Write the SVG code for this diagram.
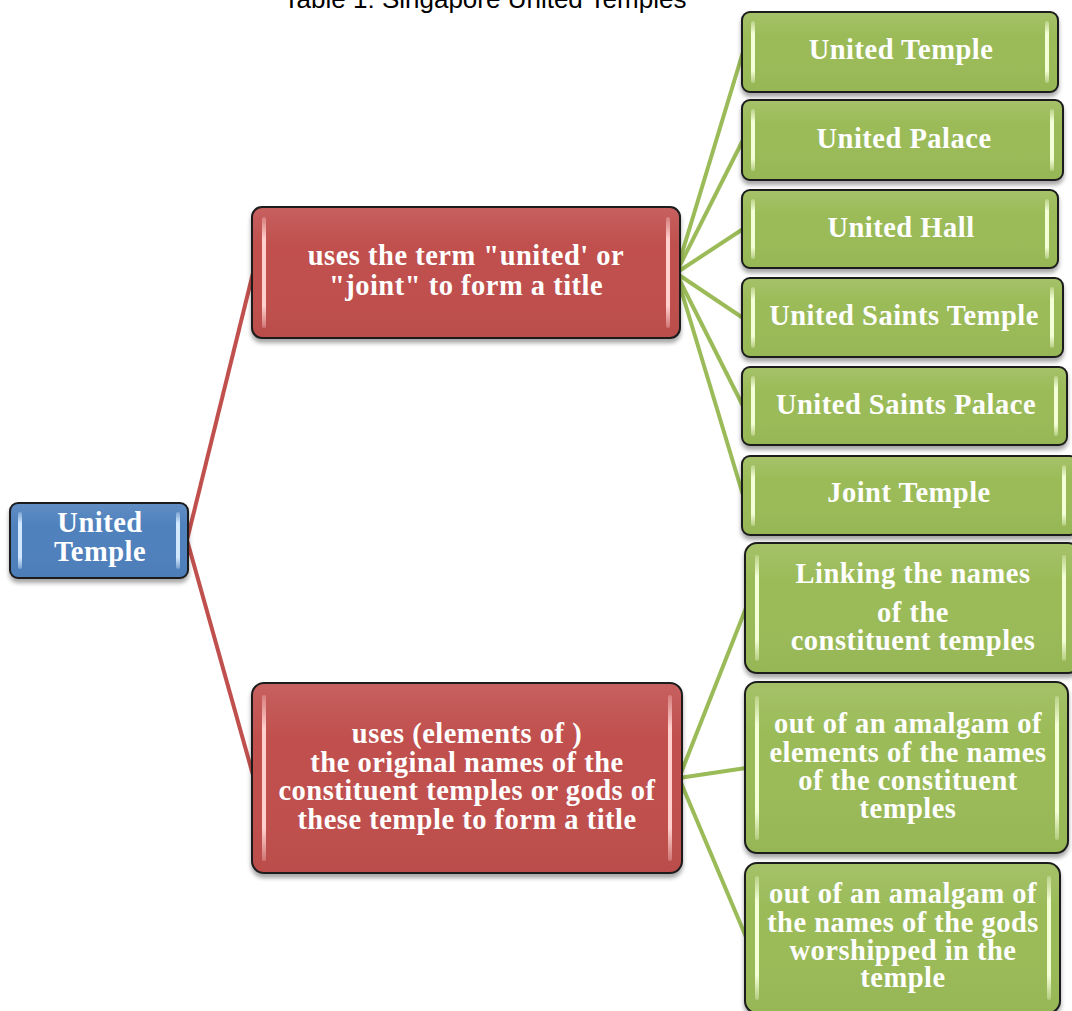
<svg xmlns="http://www.w3.org/2000/svg" width="1072" height="1011" viewBox="0 0 1072 1011">
<style>
.t{font-family:"Liberation Serif","Times New Roman",serif;font-weight:bold;font-size:28.5px;letter-spacing:0.5px;fill:#ffffff;text-anchor:middle}
.title{font-family:"Liberation Sans",Arial,sans-serif;font-size:26px;fill:#000;text-anchor:middle}
.box{stroke:#1c1c1c;stroke-width:2;filter:url(#sh)}
.g{fill:#9bbb59}.r{fill:#c0504d}.b{fill:#4f81bd}
.gl{fill:url(#glG)}.rl{fill:url(#glR)}.bl{fill:url(#glB)}
.gloss{fill:url(#top);stroke:none}
.cr{stroke:#c0504d;stroke-width:4;fill:none}
.cg{stroke:#9bbb59;stroke-width:4;fill:none}
</style>
<defs>
<filter id="sh" x="-10%" y="-10%" width="120%" height="130%">
<feDropShadow dx="0" dy="4" stdDeviation="2" flood-color="#000" flood-opacity="0.35"/>
</filter>
<linearGradient id="top" x1="0" y1="0" x2="0" y2="1">
<stop offset="0" stop-color="#fff" stop-opacity="0.1"/>
<stop offset="0.3" stop-color="#fff" stop-opacity="0"/>
<stop offset="1" stop-color="#000" stop-opacity="0.03"/>
</linearGradient>
<linearGradient id="glG" x1="0" y1="0" x2="0" y2="1">
<stop offset="0" stop-color="#f4ffd8" stop-opacity="0.3"/>
<stop offset="0.2" stop-color="#f4ffd8"/>
<stop offset="0.8" stop-color="#f4ffd8"/>
<stop offset="1" stop-color="#f4ffd8" stop-opacity="0.3"/>
</linearGradient>
<linearGradient id="glR" x1="0" y1="0" x2="0" y2="1">
<stop offset="0" stop-color="#ffd0ce" stop-opacity="0.3"/>
<stop offset="0.2" stop-color="#ffd0ce"/>
<stop offset="0.8" stop-color="#ffd0ce"/>
<stop offset="1" stop-color="#ffd0ce" stop-opacity="0.3"/>
</linearGradient>
<linearGradient id="glB" x1="0" y1="0" x2="0" y2="1">
<stop offset="0" stop-color="#d2e8ff" stop-opacity="0.3"/>
<stop offset="0.2" stop-color="#d2e8ff"/>
<stop offset="0.8" stop-color="#d2e8ff"/>
<stop offset="1" stop-color="#d2e8ff" stop-opacity="0.3"/>
</linearGradient>
</defs>
<rect width="1072" height="1011" fill="#ffffff"/>
<text class="title" x="485" y="8">Table 1: Singapore United Temples</text>

<g id="connectors">
<line class="cr" x1="187" y1="540" x2="253" y2="273"/>
<line class="cr" x1="187" y1="540" x2="253" y2="775"/>
<line class="cg" x1="676" y1="273" x2="743" y2="52"/>
<line class="cg" x1="676" y1="273" x2="743" y2="140"/>
<line class="cg" x1="676" y1="273" x2="743" y2="229"/>
<line class="cg" x1="676" y1="273" x2="743" y2="318"/>
<line class="cg" x1="676" y1="273" x2="743" y2="406"/>
<line class="cg" x1="676" y1="273" x2="743" y2="495"/>
<line class="cg" x1="679" y1="778" x2="746" y2="608"/>
<line class="cg" x1="679" y1="778" x2="746" y2="768"/>
<line class="cg" x1="679" y1="778" x2="746" y2="937"/>
</g>

<g id="n-root">
<rect class="box b" x="10" y="503" width="178" height="75" rx="8"/>
<rect class="gloss" x="11" y="504" width="176" height="73" rx="7"/>
<rect class="bl" x="18" y="512" width="4" height="57" rx="2"/>
<rect class="bl" x="176" y="512" width="4" height="57" rx="2"/>
<text class="t" x="100" y="532">United</text>
<text class="t" x="100" y="561">Temple</text>
</g>

<g id="n-term">
<rect class="box r" x="252" y="207" width="428" height="131" rx="10"/>
<rect class="gloss" x="253" y="208" width="426" height="129" rx="9"/>
<rect class="rl" x="262" y="217" width="4" height="111" rx="2"/>
<rect class="rl" x="666" y="217" width="4" height="111" rx="2"/>
<text class="t" x="466" y="265">uses the term "united' or</text>
<text class="t" x="466" y="295">"joint" to form a title</text>
</g>

<g id="n-names">
<rect class="box r" x="252" y="683" width="430" height="190" rx="12"/>
<rect class="gloss" x="253" y="684" width="428" height="188" rx="11"/>
<rect class="rl" x="262" y="695" width="4" height="166" rx="2"/>
<rect class="rl" x="668" y="695" width="4" height="166" rx="2"/>
<text class="t" x="467" y="743">uses (elements of )</text>
<text class="t" x="467" y="772">the original names of the</text>
<text class="t" x="467" y="800">constituent temples or gods of</text>
<text class="t" x="467" y="829">these temple to form a title</text>
</g>

<g id="n-g1">
<rect class="box g" x="742" y="12" width="316" height="80" rx="8"/>
<rect class="gloss" x="743" y="13" width="314" height="78" rx="7"/>
<rect class="gl" x="751" y="21" width="4" height="62" rx="2"/>
<rect class="gl" x="1045" y="21" width="4" height="62" rx="2"/>
<text class="t" x="901" y="59">United Temple</text>
</g>

<g id="n-g2">
<rect class="box g" x="742" y="100" width="321" height="80" rx="8"/>
<rect class="gloss" x="743" y="101" width="319" height="78" rx="7"/>
<rect class="gl" x="751" y="109" width="4" height="62" rx="2"/>
<rect class="gl" x="1050" y="109" width="4" height="62" rx="2"/>
<text class="t" x="904" y="148">United Palace</text>
</g>

<g id="n-g3">
<rect class="box g" x="742" y="190" width="316" height="78" rx="8"/>
<rect class="gloss" x="743" y="191" width="314" height="76" rx="7"/>
<rect class="gl" x="751" y="199" width="4" height="60" rx="2"/>
<rect class="gl" x="1045" y="199" width="4" height="60" rx="2"/>
<text class="t" x="901" y="237">United Hall</text>
</g>

<g id="n-g4">
<rect class="box g" x="742" y="278" width="321" height="79" rx="8"/>
<rect class="gloss" x="743" y="279" width="319" height="77" rx="7"/>
<rect class="gl" x="751" y="287" width="4" height="61" rx="2"/>
<rect class="gl" x="1050" y="287" width="4" height="61" rx="2"/>
<text class="t" x="904" y="325">United Saints Temple</text>
</g>

<g id="n-g5">
<rect class="box g" x="742" y="367" width="325" height="78" rx="8"/>
<rect class="gloss" x="743" y="368" width="323" height="76" rx="7"/>
<rect class="gl" x="751" y="376" width="4" height="60" rx="2"/>
<rect class="gl" x="1054" y="376" width="4" height="60" rx="2"/>
<text class="t" x="906" y="414">United Saints Palace</text>
</g>

<g id="n-g6">
<rect class="box g" x="742" y="456" width="336" height="79" rx="8"/>
<rect class="gloss" x="743" y="457" width="334" height="77" rx="7"/>
<rect class="gl" x="751" y="465" width="4" height="61" rx="2"/>
<rect class="gl" x="1062" y="465" width="4" height="61" rx="2"/>
<text class="t" x="909" y="502">Joint Temple</text>
</g>

<g id="n-g7">
<rect class="box g" x="745" y="543" width="335" height="130" rx="12"/>
<rect class="gloss" x="746" y="544" width="333" height="128" rx="11"/>
<rect class="gl" x="755" y="555" width="4" height="106" rx="2"/>
<rect class="gl" x="1062" y="555" width="4" height="106" rx="2"/>
<text class="t" x="913" y="583">Linking the names</text>
<text class="t" x="913" y="622">of the</text>
<text class="t" x="913" y="650">constituent temples</text>
</g>

<g id="n-g8">
<rect class="box g" x="745" y="682" width="323" height="171" rx="12"/>
<rect class="gloss" x="746" y="683" width="321" height="169" rx="11"/>
<rect class="gl" x="755" y="696" width="4" height="144" rx="2"/>
<rect class="gl" x="1055" y="696" width="4" height="144" rx="2"/>
<text class="t" x="908" y="733">out of an amalgam of</text>
<text class="t" x="908" y="762">elements of the names</text>
<text class="t" x="908" y="790">of the constituent</text>
<text class="t" x="908" y="818">temples</text>
</g>

<g id="n-g9">
<rect class="box g" x="745" y="863" width="315" height="150" rx="12"/>
<rect class="gloss" x="746" y="864" width="313" height="148" rx="11"/>
<rect class="gl" x="755" y="876" width="4" height="124" rx="2"/>
<rect class="gl" x="1047" y="876" width="4" height="124" rx="2"/>
<text class="t" x="903" y="903">out of an amalgam of</text>
<text class="t" x="903" y="932">the names of the gods</text>
<text class="t" x="903" y="960">worshipped in the</text>
<text class="t" x="903" y="987">temple</text>
</g>
</svg>
